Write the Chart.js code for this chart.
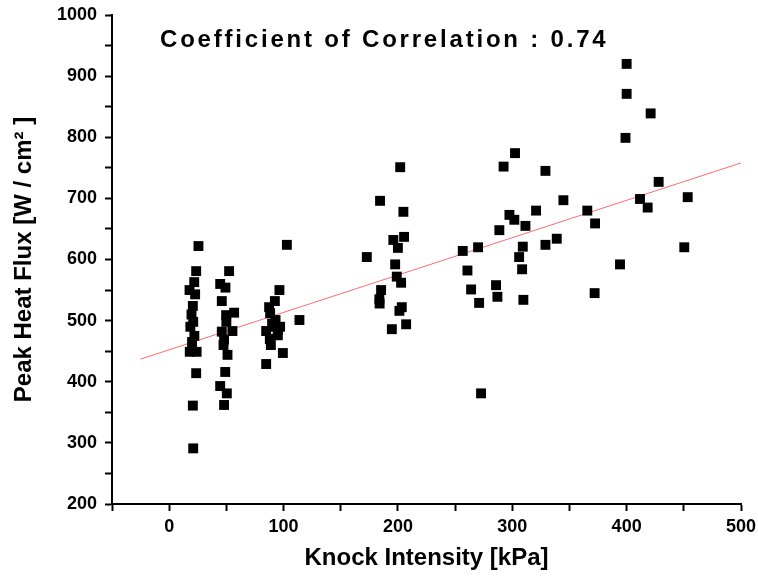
<!DOCTYPE html>
<html>
<head>
<meta charset="utf-8">
<script src="https://cdn.jsdelivr.net/npm/chart.js@4.4.0/dist/chart.umd.min.js"></script>
<style>
  html, body { margin: 0; padding: 0; background: #fff; }
  #wrap { width: 758px; height: 577px; }
</style>
</head>
<body>
<div id="wrap"><canvas id="chart"></canvas></div>
<script>
// measured points: knock intensity [kPa] vs peak heat flux [W/cm2]
const knockX = [
  23.6, 21.9, 17.8, 22.7, 20.7, 21, 18.5, 22, 18, 24, 23.6, 20.7, 21, 25.6, 19.5, 20,
  52.4, 44.6, 49.2, 46, 56.8, 49.8, 50, 55.3, 48, 47.5, 51, 49, 44.6, 50.4, 48, 46,
  96.4, 92.4, 87.4, 88.3, 84.8, 97, 92.7, 93, 95, 88.9, 99.4, 84.8, 113.9, 102.9, 90, 95, 88,
  172.8, 202, 184.4, 204.8, 196, 205.4, 200, 197.6, 199, 202.8, 185.3, 183.8, 184, 203.4, 201.3, 194.7, 207.2,
  400, 400, 421, 399, 302.4, 292.4, 329, 428, 453.4, 344.7, 411.7, 418.4, 320.8, 365.6,
  297.5, 301.8, 311.5, 372.4, 288.7, 338.9, 309.2, 329, 256.7, 270.1, 450.4, 306,
  260.8, 308.6, 394.2, 264, 285.8, 287, 271, 309.7, 372, 272.7
];
const heatFlux = [
  581, 563, 550, 543, 524, 498, 490, 475, 449, 449, 414, 361, 291, 622, 510, 465,
  581, 560, 554, 532, 513, 509, 498, 483, 469, 460, 444, 416, 393, 381, 362, 482,
  550, 532, 522, 512, 483, 490, 490, 501, 476, 460, 447, 429, 501, 624, 495, 485, 470,
  604, 751, 696, 678, 632, 637, 619, 592, 572, 562, 550, 535, 528, 522, 516, 486, 494,
  920, 871, 839, 799, 774, 752, 745, 727, 702, 697, 699, 685, 680, 680,
  673, 665, 655, 659, 648, 634, 621, 624, 614, 620, 620, 604,
  582, 584, 592, 551, 558, 539, 529, 534, 545, 381
];
// linear fit line
const fitX = [-25, 500];
const fitY = [437, 758];

const titleText = 'Coefficient of Correlation : 0.74';

const points = knockX.map((x, i) => ({ x: x, y: heatFlux[i] }));
const fitLine = fitX.map((x, i) => ({ x: x, y: fitY[i] }));

const FONT = 'Liberation Sans, Arial, sans-serif';

// text inside the plot area
const titlePlugin = {
  id: 'insideTitle',
  afterDraw(chart) {
    const c = chart.ctx;
    c.save();
    c.font = 'bold 24px ' + FONT;
    c.fillStyle = '#000';
    c.textBaseline = 'middle';
    c.letterSpacing = '2.8px';
    c.fillText(titleText, 160, 40);
    c.restore();
  }
};

const ctx = document.getElementById('chart').getContext('2d');
const myChart = new Chart(ctx, {
  type: 'scatter',
  data: {
    datasets: [{
      label: 'data',
      data: points,
      pointStyle: 'rect',
      pointRadius: 7,
      pointHoverRadius: 7,
      backgroundColor: '#000',
      borderWidth: 0
    }, {
      label: 'fit',
      type: 'line',
      data: fitLine,
      borderColor: '#ff6b6b',
      borderWidth: 1,
      pointRadius: 0,
      fill: false
    }]
  },
  plugins: [titlePlugin],
  options: {
    responsive: true,
    maintainAspectRatio: false,
    animation: false,
    layout: { padding: { top: 15, right: 17, left: 6, bottom: 0 } },
    plugins: {
      legend: { display: false },
      tooltip: { enabled: false }
    },
    scales: {
      x: {
        type: 'linear',
        min: -50,
        max: 500,
        afterFit(scale) {
          scale.height = 73;
          scale.paddingRight = 0;
          scale.paddingLeft = 0;
        },
        border: { color: '#000', width: 2 },
        grid: { drawOnChartArea: false, drawTicks: true, tickLength: 7, tickColor: '#000', tickWidth: 2 },
        ticks: {
          stepSize: 50,
          color: '#000',
          font: { family: FONT, size: 18, weight: 'bold' },
          padding: 5,
          maxRotation: 0,
          autoSkip: false,
          callback: (v) => (v % 100 === 0 ? v : '')
        },
        title: {
          display: true,
          text: 'Knock Intensity [kPa]',
          color: '#000',
          font: { family: FONT, size: 24, weight: 'bold' },
          padding: { top: 8 }
        }
      },
      y: {
        type: 'linear',
        min: 200,
        max: 1000,
        afterFit(scale) {
          scale.width = 106;
          scale.paddingTop = 0;
          scale.paddingBottom = 0;
        },
        border: { color: '#000', width: 2 },
        grid: { drawOnChartArea: false, drawTicks: true, tickLength: 7, tickColor: '#000', tickWidth: 2 },
        ticks: {
          stepSize: 50,
          color: '#000',
          font: { family: FONT, size: 18, weight: 'bold' },
          padding: 8,
          autoSkip: false,
          callback: (v) => (v % 100 === 0 ? v : '')
        },
        title: {
          display: true,
          text: 'Peak Heat Flux [W / cm² ]',
          color: '#000',
          font: { family: FONT, size: 24, weight: 'bold' },
          padding: { bottom: 0 }
        }
      }
    }
  }
});
</script>
</body>
</html>
